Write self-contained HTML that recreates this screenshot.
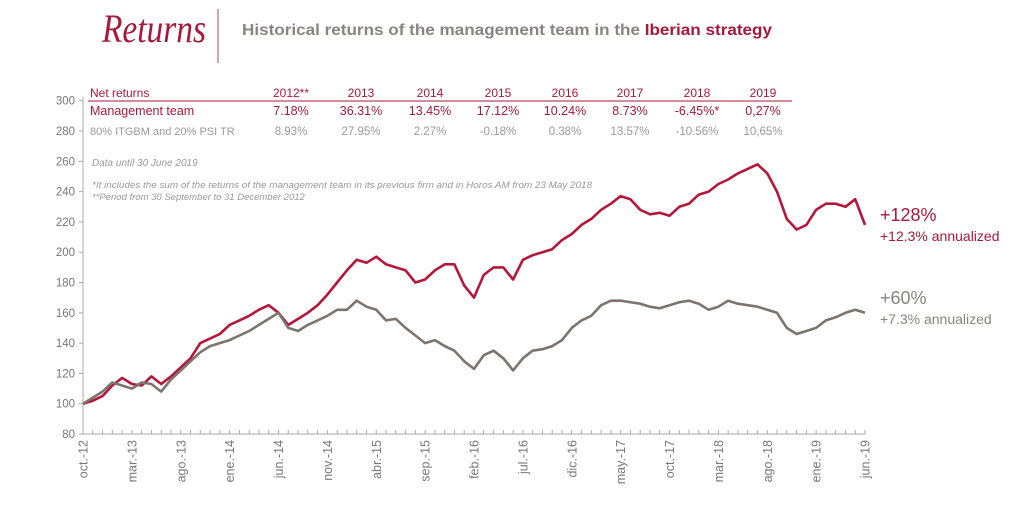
<!DOCTYPE html>
<html><head><meta charset="utf-8"><style>
body{margin:0;background:#fff;width:1024px;height:505px;overflow:hidden}
svg{display:block;font-family:"Liberation Sans",sans-serif}
</style></head><body>
<svg id="c" width="1024" height="505">
<text x="102" y="42" font-family="Liberation Serif" font-style="italic" font-size="40" fill="#a8183a" textLength="104" lengthAdjust="spacingAndGlyphs">Returns</text>
<line x1="218" y1="9" x2="218" y2="63" stroke="#b04a5e" stroke-width="1"/>
<text x="242" y="35" font-size="16" font-weight="bold" fill="#8a8480" textLength="530" lengthAdjust="spacingAndGlyphs">Historical returns of the management team in the <tspan fill="#a8183a">Iberian strategy</tspan></text>
<g id="table"></g>
<text x="92" y="166" font-size="10" font-style="italic" fill="#999">Data until 30 June 2019</text>
<text x="92" y="188" font-size="9.5" font-style="italic" fill="#999" textLength="500" lengthAdjust="spacingAndGlyphs">*It includes the sum of the returns of the management  team in its previous firm and in Horos AM from 23 May 2018</text>
<text x="92" y="200" font-size="9.5" font-style="italic" fill="#999">**Period from 30 September to 31 December 2012</text>
<g id="axes"></g>
<g id="series"></g>
<text x="880" y="221" font-size="18" fill="#a8183a">+128%</text>
<text x="880" y="241" font-size="14" fill="#a8183a">+12.3% annualized</text>
<text x="880" y="304" font-size="18" fill="#8a827c">+60%</text>
<text x="880" y="324" font-size="14" fill="#8a827c">+7.3% annualized</text>
</svg>
<script>
const years=["2012**","2013","2014","2015","2016","2017","2018","2019"];
const teamReturns=["7.18%","36.31%","13.45%","17.12%","10.24%","8.73%","-6.45%*","0,27%"];
const indexReturns=["8.93%","27.95%","2.27%","-0.18%","0.38%","13.57%","-10.56%","10,65%"];
const xTicks=["oct.-12","mar.-13","ago.-13","ene.-14","jun.-14","nov.-14","abr.-15","sep.-15","feb.-16","jul.-16","dic.-16","may.-17","oct.-17","mar.-18","ago.-18","ene.-19","jun.-19"];
const yTicks=[80,100,120,140,160,180,200,220,240,260,280,300];
const team=[100,102,105, 112,117,113,112,118,113,118,124,130,140,143,146, 152,155,158,162,165,160,152,156,160,165,172,180, 188,195,193,197,192,190,188,180,182,188,192,192, 178,170,185,190,190,182,195,198,200,202,208,212, 218,222,228,232,237,235,228,225,226,224,230,232, 238,240,245,248,252,255,258,252,240,222,215,218, 228,232,232,230,235,218];
const index=[100,104,108, 114,112,110,114,113,108,116,122,128,134,138,140, 142,145,148,152,156,160,150,148,152,155,158,162, 162,168,164,162,155,156,150,145,140,142,138,135, 128,123,132,135,130,122,130,135,136,138,142,150, 155,158,165,168,168,167,166,164,163,165,167,168, 166,162,164,168,166,165,164,162,160,150,146,148, 150,155,157,160,162,160];
const NS="http://www.w3.org/2000/svg";
const x0=83,x1=865,months=80;
const X=i=>x0+(x1-x0)*i/months;
const Y=v=>434-(v-80)*1.515;
function mk(tag,attrs,parent,text){const e=document.createElementNS(NS,tag);for(const k in attrs)e.setAttribute(k,attrs[k]);if(text!==undefined)e.textContent=text;parent.appendChild(e);return e;}
const tb=document.getElementById('table');
const colX=[291,361,430,498,565,630,697,763];
let t=mk('text',{x:90,y:97,'font-size':12,fill:'#a8183a'},tb,'Net returns');


t=mk('text',{x:90,y:115,'font-size':12.5,fill:'#a8183a'},tb,'Management team');


t=mk('text',{x:90,y:135,'font-size':11,fill:'#999'},tb,'80% ITGBM and 20% PSI TR');


const ln=mk('line',{x1:88,y1:101,x2:792,y2:101,stroke:'#a8183a','stroke-width':1},tb);


years.forEach((y,i)=>{
 let a=mk('text',{x:colX[i],y:97,'font-size':12,fill:'#a8183a','text-anchor':'middle'},tb,y);
 
 
 let b=mk('text',{x:colX[i],y:115,'font-size':12.5,fill:'#a8183a','text-anchor':'middle'},tb,teamReturns[i]);
 
 
 let c=mk('text',{x:colX[i],y:135,'font-size':11.5,fill:'#999','text-anchor':'middle'},tb,indexReturns[i]);
 
 
});
const ax=document.getElementById('axes');
let l=mk('line',{x1:x0,y1:Y(300)-4,x2:x0,y2:Y(80),stroke:'#aaa'},ax);


l=mk('line',{x1:x0,y1:Y(80),x2:x1,y2:Y(80),stroke:'#aaa'},ax);


yTicks.forEach(v=>{
 let tk=mk('line',{x1:x0-4,y1:Y(v),x2:x0,y2:Y(v),stroke:'#aaa'},ax);
 
 
 let tx=mk('text',{x:x0-8,y:Y(v)+4,'font-size':11.5,fill:'#777','text-anchor':'end'},ax,v);
 
 
});
for(let i=0;i<=months;i++){
 let tk=mk('line',{x1:X(i),y1:Y(80),x2:X(i),y2:Y(80)-4,stroke:'#aaa'},ax);
 
 
}
xTicks.forEach((s,i)=>{
 const px=X(i*5);
 let tx=mk('text',{x:0,y:0,'font-size':12.5,fill:'#777','text-anchor':'end',transform:`translate(${px+4.5},${Y(80)+6}) rotate(-90)`},ax,s);
 
 
});
const sg=document.getElementById('series');
function path(arr){return arr.map((v,i)=>(i?'L':'M')+X(i).toFixed(1)+','+Y(v).toFixed(1)).join('');}
let p=mk('path',{d:path(team),fill:'none',stroke:'#b5173b','stroke-width':2.6,'stroke-linejoin':'round'},sg);


p=mk('path',{d:path(index),fill:'none',stroke:'#7d746e','stroke-width':2.6,'stroke-linejoin':'round'},sg);


</script>
</body></html>
